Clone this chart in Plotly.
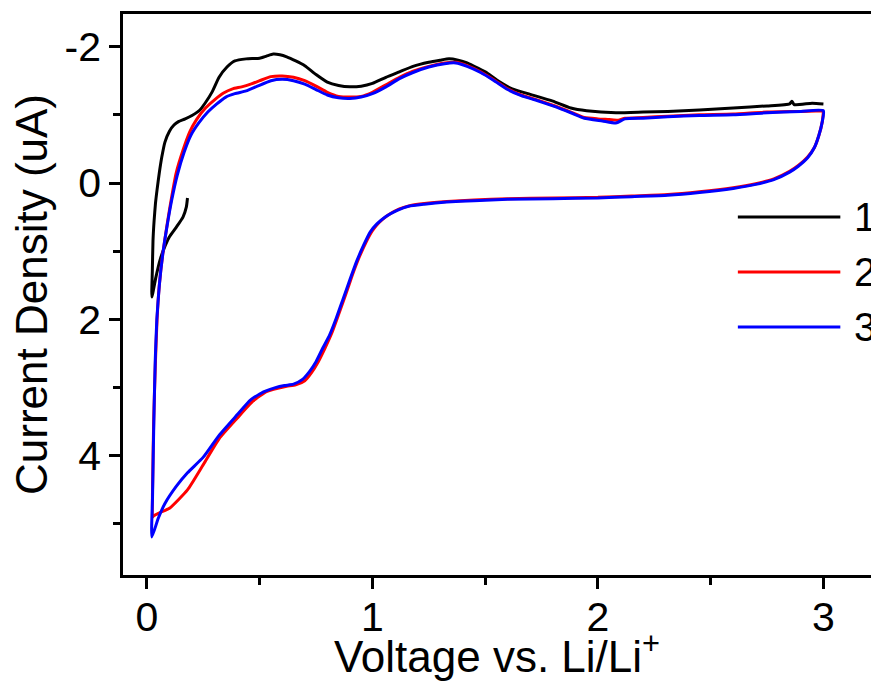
import plotly.graph_objects as go

# Cycle 1 (black)
v1 = [0.18, 0.175, 0.16, 0.13, 0.10, 0.075, 0.058, 0.04, 0.022, 0.024, 0.027, 0.032, 0.038, 0.045,
      0.055, 0.066, 0.08, 0.10, 0.12, 0.14, 0.17, 0.20, 0.235, 0.26, 0.29, 0.32, 0.355, 0.39, 0.44,
      0.50, 0.53, 0.56, 0.59, 0.62, 0.66, 0.70, 0.75, 0.80, 0.85, 0.90, 0.95, 1.00, 1.06, 1.12, 1.18,
      1.25, 1.30, 1.34, 1.38, 1.42, 1.47, 1.51, 1.56, 1.62, 1.70, 1.80, 1.88, 1.95, 2.08, 2.20, 2.31,
      2.45, 2.60, 2.75, 2.85, 2.86, 2.87, 2.95, 3.00]
j1 = [0.22, 0.35, 0.50, 0.65, 0.79, 0.97, 1.13, 1.38, 1.67, 1.30, 0.85, 0.55, 0.30, 0.10,
      -0.15, -0.38, -0.60, -0.76, -0.85, -0.90, -0.94, -0.99, -1.07, -1.18, -1.34, -1.55, -1.70, -1.79, -1.82,
      -1.83, -1.86, -1.89, -1.88, -1.85, -1.79, -1.72, -1.59, -1.48, -1.43, -1.41, -1.42, -1.46, -1.55, -1.63, -1.71,
      -1.77, -1.80, -1.82, -1.80, -1.76, -1.68, -1.61, -1.49, -1.38, -1.30, -1.20, -1.10, -1.06, -1.03, -1.04, -1.05,
      -1.07, -1.10, -1.13, -1.16, -1.20, -1.15, -1.17, -1.16]

# Cycle 2 (red)
v2 = [3.00, 2.995, 2.98, 2.96, 2.93, 2.89, 2.85, 2.78, 2.70, 2.60, 2.45, 2.31, 2.15, 2.00, 1.80, 1.60,
      1.45, 1.33, 1.23, 1.17, 1.12, 1.07, 1.03, 1.00, 0.97, 0.94, 0.91, 0.88, 0.85, 0.82, 0.79, 0.76,
      0.73, 0.70, 0.66, 0.62, 0.58, 0.53, 0.47, 0.40, 0.32, 0.25, 0.18, 0.10, 0.06, 0.03, 0.025,
      0.026, 0.03, 0.037, 0.045, 0.055, 0.07, 0.09, 0.11, 0.13, 0.16, 0.19, 0.22, 0.26, 0.30, 0.34,
      0.38, 0.42, 0.46, 0.50, 0.55, 0.60, 0.65, 0.70, 0.75, 0.80, 0.85, 0.90, 0.95, 1.00, 1.06, 1.12,
      1.18, 1.25, 1.32, 1.37, 1.42, 1.48, 1.54, 1.60, 1.66, 1.72, 1.80, 1.88, 1.94, 2.00, 2.05, 2.09,
      2.12, 2.20, 2.31, 2.45, 2.60, 2.75, 2.90, 3.00]
j2 = [-1.05, -0.90, -0.70, -0.52, -0.38, -0.26, -0.17, -0.06, 0.01, 0.07, 0.13, 0.17, 0.19, 0.21, 0.22, 0.23,
      0.25, 0.27, 0.30, 0.33, 0.38, 0.47, 0.58, 0.70, 0.88, 1.10, 1.36, 1.65, 1.93, 2.20, 2.42, 2.62,
      2.78, 2.90, 2.96, 2.98, 3.01, 3.06, 3.20, 3.45, 3.75, 4.13, 4.50, 4.77, 4.83, 4.88, 4.90,
      4.30, 3.50, 2.70, 2.00, 1.50, 1.05, 0.60, 0.20, -0.15, -0.48, -0.75, -0.93, -1.10, -1.22, -1.32,
      -1.38, -1.41, -1.45, -1.50, -1.56, -1.57, -1.55, -1.50, -1.42, -1.33, -1.27, -1.26, -1.27, -1.33, -1.44, -1.55,
      -1.64, -1.71, -1.76, -1.77, -1.72, -1.63, -1.51, -1.38, -1.29, -1.23, -1.14, -1.04, -0.96, -0.94, -0.93, -0.92,
      -0.95, -0.96, -0.98, -1.00, -1.01, -1.04, -1.05, -1.06]

# Cycle 3 (blue)
v3 = [3.00, 2.995, 2.98, 2.96, 2.93, 2.89, 2.85, 2.78, 2.70, 2.60, 2.45, 2.31, 2.15, 2.00, 1.80, 1.60,
      1.45, 1.33, 1.23, 1.16, 1.11, 1.06, 1.02, 0.99, 0.96, 0.93, 0.90, 0.87, 0.84, 0.81, 0.78, 0.75,
      0.72, 0.69, 0.65, 0.61, 0.57, 0.52, 0.46, 0.40, 0.32, 0.25, 0.18, 0.13, 0.08, 0.05, 0.022,
      0.025, 0.028, 0.032, 0.037, 0.044, 0.055, 0.07, 0.09, 0.11, 0.135, 0.165, 0.195, 0.23, 0.27, 0.31,
      0.35, 0.39, 0.44, 0.49, 0.55, 0.60, 0.65, 0.70, 0.75, 0.80, 0.85, 0.90, 0.95, 1.00, 1.06, 1.12,
      1.18, 1.25, 1.32, 1.37, 1.42, 1.48, 1.54, 1.60, 1.66, 1.72, 1.80, 1.88, 1.94, 2.02, 2.08, 2.12,
      2.20, 2.31, 2.45, 2.60, 2.75, 2.90, 3.00]
j3 = [-1.06, -0.90, -0.70, -0.52, -0.37, -0.25, -0.16, -0.05, 0.02, 0.08, 0.14, 0.18, 0.20, 0.22, 0.23, 0.24,
      0.26, 0.28, 0.31, 0.34, 0.40, 0.49, 0.60, 0.72, 0.92, 1.15, 1.42, 1.70, 1.98, 2.23, 2.42, 2.62,
      2.77, 2.88, 2.95, 2.97, 3.00, 3.06, 3.18, 3.40, 3.70, 4.02, 4.25, 4.45, 4.70, 4.92, 5.19,
      4.60, 4.00, 3.30, 2.60, 2.00, 1.50, 1.05, 0.62, 0.25, -0.12, -0.45, -0.70, -0.88, -1.04, -1.16,
      -1.26, -1.31, -1.35, -1.42, -1.50, -1.52, -1.50, -1.45, -1.37, -1.29, -1.25, -1.24, -1.26, -1.31, -1.41, -1.53,
      -1.62, -1.70, -1.75, -1.76, -1.71, -1.62, -1.50, -1.37, -1.28, -1.22, -1.13, -1.03, -0.95, -0.91, -0.88, -0.94,
      -0.95, -0.97, -0.99, -1.00, -1.03, -1.05, -1.06]

names = ["1", "2", "3"]
colors = ["#000000", "#FF0000", "#0000FF"]
series = [(v1, j1), (v2, j2), (v3, j3)]

y_tickvals = [-2, 0, 2, 4]
y_ticktext = ["-2", "0", "2", "4"]
x_tickvals = [0, 1, 2, 3]
x_ticktext = ["0", "1", "2", "3"]

FONT = "Liberation Sans, Arial, sans-serif"

fig = go.Figure()
for (vx, jy), nm, col in zip(series, names, colors):
    fig.add_trace(go.Scatter(x=vx, y=jy, mode="lines", name=nm,
                             line=dict(color=col, width=3, shape="spline", smoothing=0.5),
                             showlegend=False))

# manual legend (long sample lines as in the original)
leg_y = [0.638, 0.540, 0.442]
for nm, col, yy in zip(names, colors, leg_y):
    fig.add_shape(type="line", xref="paper", yref="paper", x0=0.822, x1=0.959, y0=yy, y1=yy,
                  line=dict(color=col, width=3))
    fig.add_annotation(xref="paper", yref="paper", x=0.975, y=yy, text=nm, showarrow=False,
                       xanchor="left", yanchor="middle", font=dict(family=FONT, size=40, color="black"))

fig.update_layout(
    width=871, height=681,
    margin=dict(l=123, r=0, t=14, b=106),
    paper_bgcolor="white", plot_bgcolor="white",
    font=dict(family=FONT, color="black"),
)
fig.update_xaxes(
    range=[-0.106, 3.211], showgrid=False, zeroline=False,
    showline=True, linecolor="black", linewidth=2.5, mirror=True,
    ticks="outside", ticklen=11, tickwidth=2.5, tickcolor="black",
    tickmode="array", tickvals=x_tickvals, ticktext=x_ticktext,
    tickfont=dict(family=FONT, size=41, color="black"), ticklabelstandoff=-7,
    minor=dict(ticks="outside", ticklen=7, tickwidth=2.5, tickcolor="black", dtick=0.5, tick0=0),
    title=dict(text="Voltage vs. Li/Li<sup>+</sup>", font=dict(family=FONT, size=44, color="black"), standoff=8),
)
fig.update_yaxes(
    range=[5.748, -2.478], showgrid=False, zeroline=False,
    showline=True, linecolor="black", linewidth=2.5, mirror=False,
    ticks="outside", ticklen=11, tickwidth=2.5, tickcolor="black",
    tickmode="array", tickvals=y_tickvals, ticktext=y_ticktext,
    tickfont=dict(family=FONT, size=41, color="black"),
    minor=dict(ticks="outside", ticklen=7, tickwidth=2.5, tickcolor="black", dtick=1, tick0=0),
    title=dict(text="Current Density (uA)", font=dict(family=FONT, size=44, color="black"), standoff=4),
)

fig.write_html("out.html", config={"displayModeBar": False},
               post_script="document.body.style.margin='0';document.body.style.overflow='hidden';")
